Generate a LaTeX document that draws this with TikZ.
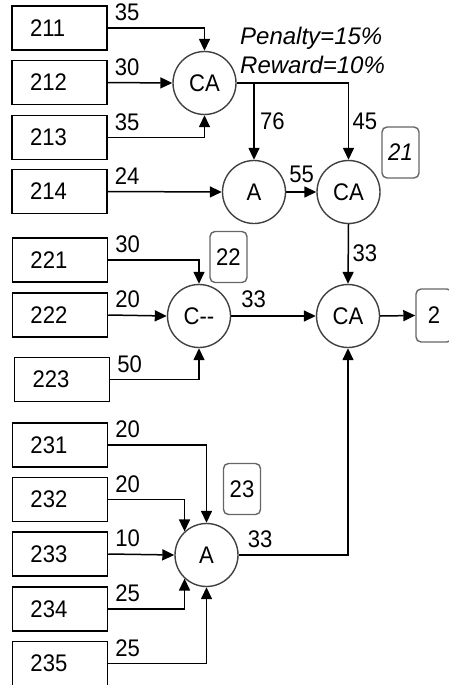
\documentclass[tikz,border=0pt]{standalone}
\usepackage{fontspec}
\setmainfont{Liberation Sans}
\newfontfamily\narrowsans{Liberation Sans}[FakeStretch=0.92]
\usetikzlibrary{arrows.meta,calc}
\begin{document}
\begin{tikzpicture}[x=1pt,y=-1pt,
  every node/.style={font=\narrowsans\fontsize{24}{29}\selectfont},
  srcbox/.style={draw=black, line width=1.5pt, minimum width=95pt, minimum height=44pt,
    text width=59pt, inner xsep=18pt, align=left, inner ysep=0pt},
  proc/.style={circle, draw=black!75, line width=1.4pt, minimum size=63pt, inner sep=0pt},
  tag/.style={draw=black!60, line width=1.4pt, rounded corners=5pt, minimum width=37pt,
    minimum height=51pt, inner sep=0pt},
  conn/.style={line width=1.5pt, -{Triangle[length=12pt,width=11pt]}},
  wt/.style={inner sep=0pt, anchor=south west}
]
\useasboundingbox (0,0) rectangle (449,685);
% source boxes
\node[srcbox] (b211) at (59.5,28) {211};
\node[srcbox] (b212) at (59.5,82.5) {212};
\node[srcbox] (b213) at (59.5,137.5) {213};
\node[srcbox] (b214) at (59.5,191.5) {214};
\node[srcbox] (b221) at (60,260) {221};
\node[srcbox] (b222) at (60,315) {222};
\node[srcbox] (b223) at (62,379.5) {223};
\node[srcbox] (b231) at (60,445) {231};
\node[srcbox] (b232) at (60,499.5) {232};
\node[srcbox] (b233) at (60,554) {233};
\node[srcbox] (b234) at (60,609) {234};
\node[srcbox] (b235) at (60,663.5) {235};
% process circles
\node[proc] (ca1) at (204.5,83) {CA};
\node[proc] (a1) at (254,192) {A};
\node[proc] (ca2) at (348.5,192) {CA};
\node[proc] (cm) at (199,316) {C{-}{-}};
\node[proc] (ca4) at (348,316) {CA};
\node[proc] (a23) at (206.5,555) {A};
% tags
\node[tag] (t21) at (400.5,152.5) {\itshape 21};
\node[tag] (t22) at (228.5,257) {22};
\node[tag] (t23) at (242,489) {23};
\node[tag, minimum width=36pt, minimum height=53pt] (t2) at (434,315.5) {2};
% note
\node[anchor=west, align=left, inner sep=0pt, font=\fontsize{24}{29}\selectfont\itshape] (note) at (240,50) {Penalty=15\%\\Reward=10\%};
% connectors group 21
\draw[conn] (b211.east) -| (ca1.north);
\draw[conn] (b212.east) -- (ca1.west);
\draw[conn] (b213.east) -| (ca1.south);
\draw[conn] (b214.east) -- (a1.west);
\draw[conn] (ca1.east) -| (ca2.north);
\coordinate (br) at (a1.north |- ca1.east);
\draw[conn] (br) -- (a1.north);
\draw[conn] (a1.east) -- (ca2.west);
\draw[conn] (ca2.south) -- (ca4.north);
% group 22
\draw[conn] (b221.east) -| (cm.north);
\draw[conn] (b222.east) -- (cm.west);
\draw[conn] (b223.east) -| (cm.south);
\draw[conn] (cm.east) -- (ca4.west);
\draw[conn] (ca4.east) -- (t2.west);
% group 23
\draw[conn] (b231.east) -| (a23.north);
\draw[conn] (b232.east) -| (a23.133);
\draw[conn] (b233.east) -- (a23.west);
\draw[conn] (b234.east) -| (a23.227);
\draw[conn] (b235.east) -| (a23.south);
\draw[conn] (a23.east) -| (ca4.south);
% weights
\foreach \b/\w in {b211/35,b212/30,b213/35,b214/24,b221/30,b222/20,b223/50,b231/20,b232/20,b233/10,b234/25,b235/25}
  \node[wt] at ($(\b.east)+(7,-7)$) {\w};
\node[wt, anchor=west] at ($(br)+(6,38)$) {76};
\node[wt, anchor=west] at ($(ca2.north)+(4,-38)$) {45};
\node[wt] at ($(a1.east)+(3,-9)$) {55};
\node[wt, anchor=west] at ($(ca2.south)+(4,29)$) {33};
\node[wt] at ($(cm.east)+(10,-8)$) {33};
\node[wt] at ($(a23.east)+(9,-7)$) {33};
\end{tikzpicture}
\end{document}
